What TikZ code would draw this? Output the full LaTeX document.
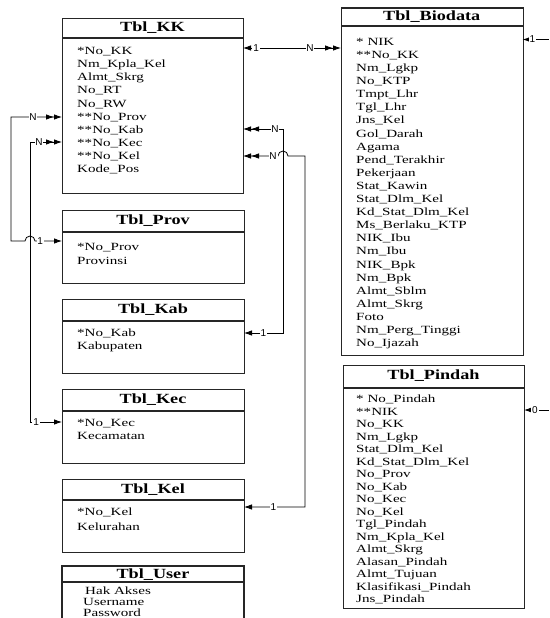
\documentclass[tikz,border=0pt]{standalone}
\usepackage{fontspec}
\setmainfont{Liberation Serif}
\newfontfamily\fieldfont[FakeStretch=1.37]{Liberation Serif}
\newfontfamily\titlefont[FakeStretch=1.3]{Liberation Serif}
\newfontfamily\lblfont{Liberation Sans}
\usetikzlibrary{arrows.meta}
\tikzset{
  tipone/.tip={Latex[length=8pt,width=5.5pt]},
  tipmany/.tip={Latex[length=8pt,width=5.5pt] Latex[length=8pt,width=5.5pt]},
}
\begin{document}
\begin{tikzpicture}[x=1pt,y=-1pt,
  tbl/.style={draw=black!85, line width=1.1pt, rectangle, inner sep=0pt, anchor=north west},
  hdr/.style={draw=black!85, line width=1.1pt},
  ttl/.style={font=\titlefont\bfseries\fontsize{14}{16}\selectfont, inner sep=0pt},
  fld/.style={font=\fieldfont\fontsize{11}{13}\selectfont, inner sep=0pt, anchor=base west},
  conn/.style={line width=0.8pt, black},
  lbl/.style={font=\lblfont\fontsize{10}{11}\selectfont, fill=white, inner sep=0.8pt},
]
\useasboundingbox (0,0) rectangle (549,618);

% ---------- Tbl_KK ----------
\node[tbl, minimum width=181pt, minimum height=175pt] (kk) at (62,18) {};
\draw[hdr] ([yshift=-20pt]kk.north west) -- ([yshift=-20pt]kk.north east);
\node[ttl] (kkT) at (152.5,28) {Tbl\_KK};
\foreach \t [count=\i] in {*No\_KK, Nm\_Kpla\_Kel, Almt\_Skrg, No\_RT, No\_RW, **No\_Prov, **No\_Kab, **No\_Kec, **No\_Kel, Kode\_Pos}
  \node[fld] (kkF\i) at (77,{54.6+(\i-1)*13.1}) {\t};

% ---------- Tbl_Biodata ----------
\node[tbl, minimum width=181.5pt, minimum height=347.5pt] (bio) at (341,7.5) {};
\draw[hdr] ([yshift=-18.5pt]bio.north west) -- ([yshift=-18.5pt]bio.north east);
\node[ttl] (bioT) at (431.75,16.7) {Tbl\_Biodata};
\foreach \t [count=\i] in {* NIK, **No\_KK, Nm\_Lgkp, No\_KTP, Tmpt\_Lhr, Tgl\_Lhr, Jns\_Kel, Gol\_Darah, Agama, Pend\_Terakhir, Pekerjaan, Stat\_Kawin, Stat\_Dlm\_Kel, Kd\_Stat\_Dlm\_Kel, Ms\_Berlaku\_KTP, NIK\_Ibu, Nm\_Ibu, NIK\_Bpk, Nm\_Bpk, Almt\_Sblm, Almt\_Skrg, Foto, Nm\_Perg\_Tinggi, No\_Ijazah}
  \node[fld] (bioF\i) at (356,{45.3+(\i-1)*13.1}) {\t};

% ---------- Tbl_Pindah ----------
\node[tbl, minimum width=181pt, minimum height=243pt] (pin) at (343,365) {};
\draw[hdr] ([yshift=-23pt]pin.north west) -- ([yshift=-23pt]pin.north east);
\node[ttl] (pinT) at (433.5,376) {Tbl\_Pindah};
\foreach \t [count=\i] in {* No\_Pindah, **NIK, No\_KK, Nm\_Lgkp, Stat\_Dlm\_Kel, Kd\_Stat\_Dlm\_Kel, No\_Prov, No\_Kab, No\_Kec, No\_Kel, Tgl\_Pindah, Nm\_Kpla\_Kel, Almt\_Skrg, Alasan\_Pindah, Almt\_Tujuan, Klasifikasi\_Pindah, Jns\_Pindah}
  \node[fld] (pinF\i) at (356,{402.6+(\i-1)*12.5}) {\t};

% ---------- Tbl_Prov ----------
\node[tbl, minimum width=182pt, minimum height=73pt] (prov) at (62,210) {};
\draw[hdr] ([yshift=-22pt]prov.north west) -- ([yshift=-22pt]prov.north east);
\node[ttl] (provT) at (153,221) {Tbl\_Prov};
\node[fld] (provF1) at (77,250.3) {*No\_Prov};
\node[fld] (provF2) at (77,264.6) {Provinsi};

% ---------- Tbl_Kab ----------
\node[tbl, minimum width=182pt, minimum height=74pt] (kab) at (62,299) {};
\draw[hdr] ([yshift=-22pt]kab.north west) -- ([yshift=-22pt]kab.north east);
\node[ttl] (kabT) at (153,310) {Tbl\_Kab};
\node[fld] (kabF1) at (77,336.9) {*No\_Kab};
\node[fld] (kabF2) at (77,349.6) {Kabupaten};

% ---------- Tbl_Kec ----------
\node[tbl, minimum width=182pt, minimum height=74pt] (kec) at (62,389) {};
\draw[hdr] ([yshift=-22pt]kec.north west) -- ([yshift=-22pt]kec.north east);
\node[ttl] (kecT) at (153,400) {Tbl\_Kec};
\node[fld] (kecF1) at (77,426.3) {*No\_Kec};
\node[fld] (kecF2) at (77,439.6) {Kecamatan};

% ---------- Tbl_Kel ----------
\node[tbl, minimum width=182pt, minimum height=73pt] (kel) at (62,479) {};
\draw[hdr] ([yshift=-21pt]kel.north west) -- ([yshift=-21pt]kel.north east);
\node[ttl] (kelT) at (153,489.5) {Tbl\_Kel};
\node[fld] (kelF1) at (77,515.9) {*No\_Kel};
\node[fld] (kelF2) at (77,530.3) {Kelurahan};

% ---------- Tbl_User (cut off at the bottom) ----------
\draw[hdr] (62,618) -- (62,566) -- (244,566) -- (244,618);
\draw[hdr] (62,582) -- (244,582);
\node[ttl] (userT) at (153,575) {Tbl\_User};
\node[fld] (userF1) at (85,594) {Hak Akses};
\node[fld] (userF2) at (83,605.5) {Username};
\node[fld] (userF3) at (83,616.5) {Password};

% ---------- connector end points ----------
\coordinate (kkE1) at (243,48);
\coordinate (bioW1) at (341,48);
\coordinate (bioE1) at (522.5,39.5);
\coordinate (bioX) at (549,39.5);
\coordinate (pinE) at (524,410);
\coordinate (pinX) at (549,410);
\coordinate (kkW1) at (62,117);
\coordinate (provW) at (62,241);
\coordinate (kkW2) at (62,142);
\coordinate (kecW) at (62,422);
\coordinate (kkE2) at (243,129);
\coordinate (kabE) at (244,333);
\coordinate (kkE3) at (243,156);
\coordinate (kelE) at (244,507);

% ---------- connectors ----------
\draw[conn, tipone-tipmany] (kkE1) -- node[lbl,pos=0.133]{1} node[lbl,pos=0.684]{N} (bioW1);
\draw[conn, tipone-] (bioE1) -- node[lbl,pos=0.37]{1} (bioX);
\draw[conn, tipone-] (pinE) -- node[lbl,pos=0.44]{0} (pinX);
\draw[conn, tipmany-tipone] (kkW1) -- node[lbl,pos=0.57]{N} (11,117) -- (11,241) -- (25,241)
   arc[start angle=180,end angle=360,radius=5] -- node[lbl,pos=0.19]{1} (provW);
\draw[conn, tipmany-tipone] (kkW2) -- node[lbl,pos=0.72]{N} (30,142) -- (30,422) -- node[lbl,pos=0.19]{1} (kecW);
\draw[conn, tipmany-tipone] (kkE2) -- node[lbl,pos=0.8]{N} (283,129) -- (283,333) -- node[lbl,pos=0.5]{1} (kabE);
\draw[conn, tipmany-tipone] (kkE3) -- node[lbl,pos=0.86]{N} (278,156)
   arc[start angle=180,end angle=360,radius=5] -- (305,156) -- (305,507) -- node[lbl,pos=0.52]{1} (kelE);
\end{tikzpicture}
\end{document}
